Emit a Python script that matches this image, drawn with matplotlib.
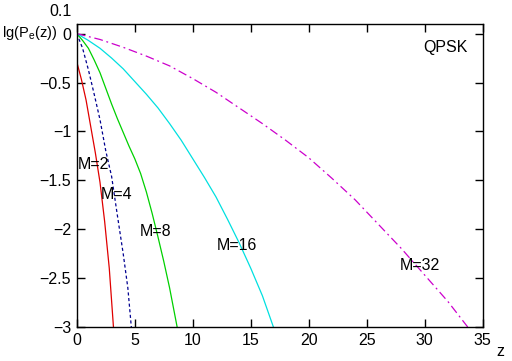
import matplotlib
matplotlib.use('Agg')
import matplotlib.pyplot as plt

plt.rcParams['font.family'] = ['Liberation Sans', 'DejaVu Sans']

# values: z and lg(Pe(z)) per curve
z_m2 = [0, 0.4, 0.8, 1.2, 1.6, 2.0, 2.4, 2.8, 3.16]
y_m2 = [-0.29, -0.47, -0.68, -0.95, -1.22, -1.52, -1.92, -2.4, -3.0]

z_m4 = [0, 0.5, 1, 1.5, 2, 2.5, 3, 3.5, 4, 4.4, 4.7]
y_m4 = [0, -0.15, -0.37, -0.62, -0.88, -1.2, -1.46, -1.86, -2.25, -2.6, -3.0]

z_m8 = [0, 0.5, 1, 1.5, 2, 2.5, 3, 3.5, 4, 4.5, 5, 5.5, 6, 6.5, 7, 7.5, 8, 8.65]
y_m8 = [0, -0.07, -0.15, -0.27, -0.4, -0.56, -0.72, -0.87, -1.01, -1.15,
        -1.28, -1.43, -1.62, -1.84, -2.08, -2.33, -2.6, -3.0]

z_m16 = [0, 1, 2, 3, 4, 5, 6, 7, 8, 9, 10, 11, 12, 13, 14, 15, 16, 16.95]
y_m16 = [0, -0.07, -0.15, -0.25, -0.36, -0.49, -0.62, -0.76, -0.92, -1.09,
         -1.28, -1.47, -1.67, -1.9, -2.14, -2.4, -2.68, -3.0]

z_m32 = [0, 2, 4, 6, 8, 10, 12, 14, 16, 18, 20, 22, 24, 26, 28, 30, 32, 33.7]
y_m32 = [0, -0.06, -0.14, -0.23, -0.33, -0.46, -0.6, -0.76, -0.92, -1.09,
         -1.27, -1.48, -1.7, -1.95, -2.2, -2.47, -2.74, -3.0]

xticks = [0, 5, 10, 15, 20, 25, 30, 35]
yticks = [0, -0.5, -1, -1.5, -2, -2.5, -3]
ytick_labels = ['0', '\u22120.5', '\u22121', '\u22121.5', '\u22122', '\u22122.5', '\u22123']

fig = plt.figure(figsize=(5.12, 3.61), dpi=100)
ax = fig.add_axes([0.150, 0.094, 0.793, 0.840])

ax.plot(z_m2, y_m2, color='#e00000', lw=0.9)
ax.plot(z_m4, y_m4, color='#000090', lw=0.9, ls=(0, (2.5, 2)))
ax.plot(z_m8, y_m8, color='#00d000', lw=0.9)
ax.plot(z_m16, y_m16, color='#00e0e0', lw=0.9)
ax.plot(z_m32, y_m32, color='#cc00cc', lw=0.9, ls=(0, (7, 3, 1.5, 3)))

ax.set_xlim(0, 35)
ax.set_ylim(-3, 0.1)
ax.set_xticks(xticks)
ax.set_yticks(yticks)
ax.set_yticklabels(ytick_labels)
ax.tick_params(direction='in', length=6, width=1, top=True, right=True,
               labelsize=11.5, pad=4)
for s in ax.spines.values():
    s.set_linewidth(1)

fs = 11.5
ax.text(0.05, -1.34, 'M=2', fontsize=fs, va='center')
ax.text(2.1, -1.64, 'M=4', fontsize=fs, va='center')
ax.text(5.43, -2.02, 'M=8', fontsize=fs, va='center')
ax.text(12.04, -2.17, 'M=16', fontsize=fs, va='center')
ax.text(27.8, -2.37, 'M=32', fontsize=fs, va='center')
ax.text(29.9, -0.14, 'QPSK', fontsize=fs, va='center')

fig.text(72 / 512, 1 - 12 / 361, '0.1', fontsize=fs, ha='right', va='center')
fig.text(2 / 512, 1 - 33 / 361, r'lg(P$_\mathregular{e}$(z))', fontsize=10.5,
         ha='left', va='center')
fig.text(500 / 512, 1 - 352 / 361, 'z', fontsize=fs, ha='center', va='center')

fig.savefig('out.png', dpi=100)
